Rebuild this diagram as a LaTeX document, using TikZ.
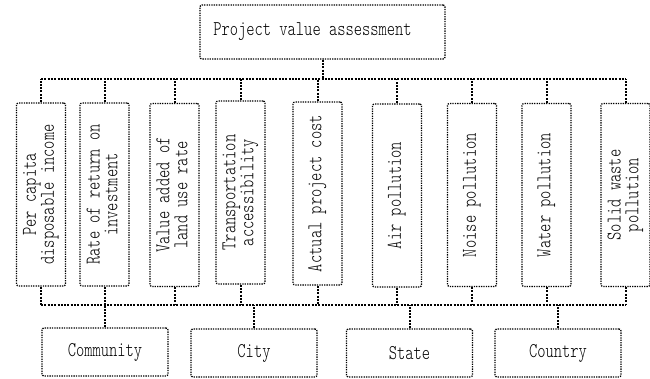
\documentclass[tikz,border=0pt]{standalone}
\usepackage{fontspec}
\usepackage{graphicx}
\newfontfamily\boxfont[FakeStretch=0.75]{lmmonolt10-regular.otf}
% rotated, centred label for the tall boxes
\newcommand{\sidetext}[1]{\rotatebox{90}{\begin{tabular}{@{}c@{}}#1\end{tabular}}}
\tikzset{
  dotbox/.style={draw, line width=1.3pt, dash pattern=on 1.3pt off 1.1pt,
    rounded corners=2pt, inner sep=0pt, align=center,
    font=\boxfont\fontsize{21}{17}\selectfont},
  crit/.style={dotbox, minimum width=49pt, minimum height=183pt},
  level/.style={dotbox, minimum width=126pt, minimum height=48pt},
  link/.style={line width=2pt, dash pattern=on 2pt off 1.3pt}
}
\begin{document}
\begin{tikzpicture}[x=1pt,y=-1pt]
\useasboundingbox (0,0) rectangle (650,378);
% top
\node[dotbox, minimum width=245pt, minimum height=54pt] (pva) at (322.5,32) {Project value assessment\hspace*{20pt}};
\coordinate (topbus) at (0,79);
\coordinate (lowbus) at (0,305);
% criteria
\node[crit] (inc) at (41,194.5) {\sidetext{Per capita\\disposable income}};
\node[crit] (roi) at (104.5,194.5) {\sidetext{Rate of return on\\investment}};
\node[crit] (land) at (174.5,195) {\sidetext{Value added of\\land use rate}};
\node[crit] (trans) at (240.5,192.5) {\sidetext{Transportation\\accessibility}};
\node[crit] (cost) at (317.5,193.5) {\sidetext{Actual project cost}};
\node[crit] (air) at (397,195.5) {\sidetext{Air pollution}};
\node[crit] (noise) at (472,195) {\sidetext{Noise pollution}};
\node[crit] (water) at (546.5,195) {\sidetext{Water pollution}};
\node[crit] (waste) at (625.5,195) {\sidetext{Solid waste\\pollution}};
% levels
\node[level] (comm) at (105,352) {Community};
\node[level] (city) at (254,353) {City};
\node[level] (state) at (409.5,353) {State};
\node[level] (ctry) at (558,353) {Country};
% upper bus
\draw[link] (pva.south) -- (pva.south |- topbus);
\draw[link] (inc.north |- topbus) -- (waste.north |- topbus);
\draw[link] (inc.north) -- (inc.north |- topbus);
\draw[link] (roi.north) -- (roi.north |- topbus);
\draw[link] (land.north) -- (land.north |- topbus);
\draw[link] (trans.north) -- (trans.north |- topbus);
\draw[link] (cost.north) -- (cost.north |- topbus);
\draw[link] (air.north) -- (air.north |- topbus);
\draw[link] (noise.north) -- (noise.north |- topbus);
\draw[link] (water.north) -- (water.north |- topbus);
\draw[link] (waste.north) -- (waste.north |- topbus);
% lower bus
\draw[link] (inc.south |- lowbus) -- (waste.south |- lowbus);
\draw[link] (inc.south) -- (inc.south |- lowbus);
\draw[link] (roi.south) -- (roi.south |- lowbus);
\draw[link] (land.south) -- (land.south |- lowbus);
\draw[link] (trans.south) -- (trans.south |- lowbus);
\draw[link] (cost.south) -- (cost.south |- lowbus);
\draw[link] (air.south) -- (air.south |- lowbus);
\draw[link] (noise.south) -- (noise.south |- lowbus);
\draw[link] (water.south) -- (water.south |- lowbus);
\draw[link] (waste.south) -- (waste.south |- lowbus);
\draw[link] (comm.north) -- (comm.north |- lowbus);
\draw[link] (city.north) -- (city.north |- lowbus);
\draw[link] (state.north) -- (state.north |- lowbus);
\draw[link] (ctry.north) -- (ctry.north |- lowbus);
\end{tikzpicture}
\end{document}
